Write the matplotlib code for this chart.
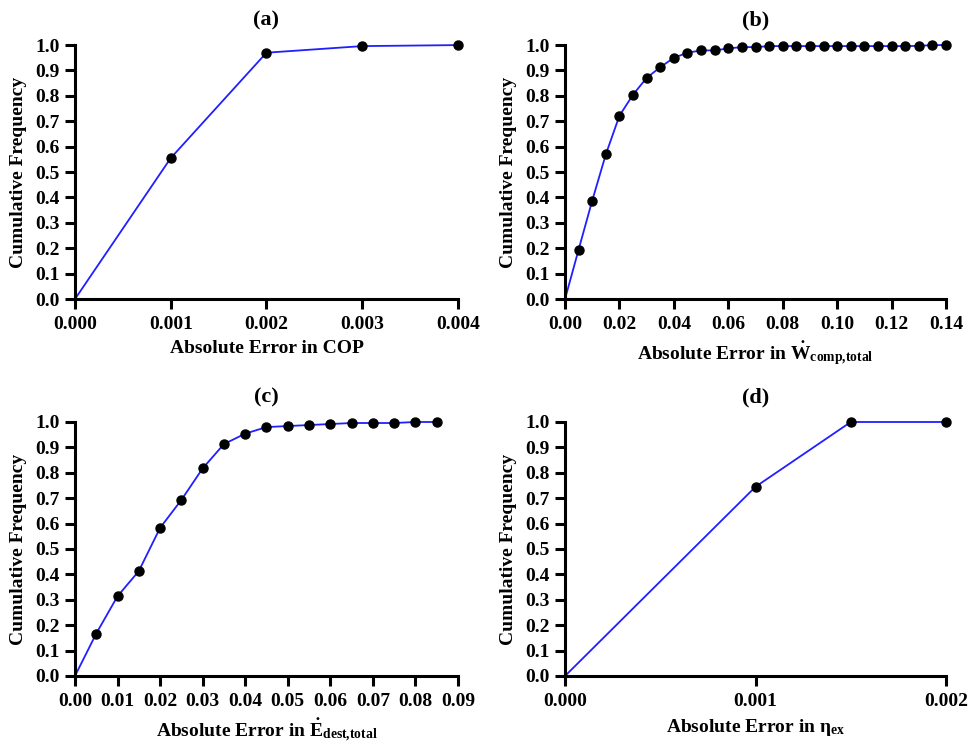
import matplotlib
matplotlib.use("Agg")
import matplotlib.pyplot as plt
import numpy as np

plt.rcParams['font.family'] = 'serif'
plt.rcParams['font.serif'] = ['Liberation Serif']
plt.rcParams['font.weight'] = 'bold'
plt.rcParams['mathtext.fontset'] = 'custom'
plt.rcParams['mathtext.rm'] = 'Liberation Serif:bold'
plt.rcParams['mathtext.bf'] = 'Liberation Serif:bold'
plt.rcParams['mathtext.it'] = 'Liberation Serif:bold'
FONT = 'Liberation Serif'

# (a) COP
x_a = [0.0, 0.001, 0.002, 0.003, 0.004]
y_a = [0.0, 0.555, 0.970, 0.996, 1.0]

# (b) W_comp,total
x_b = [0.0, 0.005, 0.010, 0.015, 0.020, 0.025, 0.030, 0.035, 0.040, 0.045,
       0.050, 0.055, 0.060, 0.065, 0.070, 0.075, 0.080, 0.085, 0.090, 0.095,
       0.100, 0.105, 0.110, 0.115, 0.120, 0.125, 0.130, 0.135, 0.140]
y_b = [0.0, 0.195, 0.388, 0.570, 0.722, 0.805, 0.871, 0.913, 0.950, 0.970,
       0.979, 0.979, 0.987, 0.992, 0.992, 0.996, 0.996, 0.996, 0.996, 0.996,
       0.996, 0.996, 0.996, 0.996, 0.996, 0.996, 0.997, 1.0, 1.0]

# (c) E_dest,total
x_c = [0.0, 0.005, 0.010, 0.015, 0.020, 0.025, 0.030, 0.035, 0.040, 0.045,
       0.050, 0.055, 0.060, 0.065, 0.070, 0.075, 0.080, 0.085]
y_c = [0.0, 0.167, 0.314, 0.413, 0.583, 0.693, 0.817, 0.913, 0.954, 0.980,
       0.984, 0.988, 0.992, 0.996, 0.996, 0.996, 1.0, 1.0]

# (d) eta_ex
x_d = [0.0, 0.001, 0.0015, 0.002]
y_d = [0.0, 0.745, 1.0, 1.0]

panels = [
    ("(a)", x_a, y_a, "Absolute Error in COP", 0.004, np.arange(0, 0.0041, 0.001), "%.3f"),
    ("(b)", x_b, y_b, r"Absolute Error in $\dot{\mathrm{W}}_{\mathrm{comp{,}total}}$", 0.14, np.arange(0, 0.141, 0.02), "%.2f"),
    ("(c)", x_c, y_c, r"Absolute Error in $\dot{\mathrm{E}}_{\mathrm{dest{,}total}}$", 0.09, np.arange(0, 0.091, 0.01), "%.2f"),
    ("(d)", x_d, y_d, r"Absolute Error in $\eta_{\mathrm{ex}}$", 0.002, np.arange(0, 0.0021, 0.001), "%.3f"),
]

positions = [
    [0.0772, 0.598, 0.3944, 0.3414],
    [0.5819, 0.598, 0.3924, 0.3414],
    [0.0772, 0.0914, 0.3944, 0.3414],
    [0.5819, 0.0914, 0.3924, 0.3414],
]

fig = plt.figure(figsize=(9.71, 7.44), dpi=100)

for (title, xs, ys, xlabel, xmax, xticks, fmt), pos in zip(panels, positions):
    ax = fig.add_axes(pos)
    ax.plot(xs, ys, color='#1f1fff', lw=1.3, zorder=2, clip_on=False)
    ax.plot(xs[1:], ys[1:], 'o', color='black', ms=6.5, zorder=3, clip_on=False)
    ax.set_xlim(0, xmax)
    ax.set_ylim(0, 1.0)
    ax.set_xticks(xticks)
    ax.set_xticklabels([fmt % t for t in xticks], family=FONT, weight='bold', fontsize=14)
    yt = np.round(np.arange(0, 1.01, 0.1), 1)
    ax.set_yticks(yt)
    ax.set_yticklabels(["%.1f" % t for t in yt], family=FONT, weight='bold', fontsize=14)
    for s in ['top', 'right']:
        ax.spines[s].set_visible(False)
    for s in ['left', 'bottom']:
        ax.spines[s].set_linewidth(2.2)
    ax.tick_params(width=2.2, length=7, pad=4)
    ax.tick_params(axis='x', pad=5)
    ax.set_xlabel(xlabel, fontsize=14, family=FONT, fontweight='bold', labelpad=5)
    ax.set_ylabel("Cumulative Frequency", fontsize=14, family=FONT, fontweight='bold', labelpad=6)
    ax.set_title(title, fontsize=16, family=FONT, fontweight='bold', pad=14)

fig.savefig("out.png", dpi=100)
